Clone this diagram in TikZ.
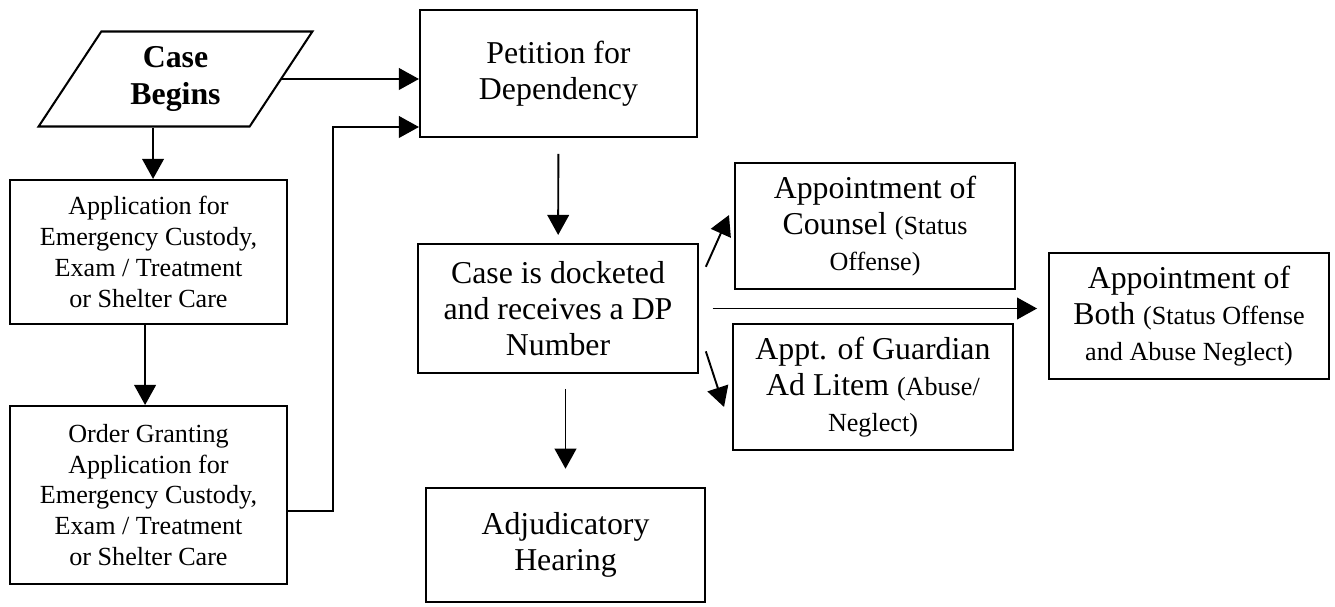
\documentclass[tikz,border=0pt]{standalone}
\usepackage{fontspec}
\setmainfont{Liberation Serif}
\usetikzlibrary{shapes.geometric,arrows.meta}
\newcommand{\smalltxt}[1]{{\fontsize{11.5}{13.5}\selectfont #1}}
\tikzstyle{procbox}=[draw, line width=0.9pt, align=center, inner sep=0pt, font=\fontsize{14}{15.8}\selectfont]
\tikzstyle{smallbox}=[procbox, font=\fontsize{11.5}{13.6}\selectfont]
\tikzstyle{startbox}=[draw, line width=0.9pt, trapezium, trapezium left angle=60, trapezium right angle=120, trapezium stretches=true, inner sep=0pt, align=center, font=\bfseries\fontsize{14}{16.7}\selectfont]
\tikzstyle{flow}=[draw, line width=0.85pt, -{Triangle[length=8.8pt,width=9.5pt]}]

\begin{document}
\begin{tikzpicture}[x=0.44pt, y=-0.44pt]
  \useasboundingbox (0,0) rectangle (1335,607);

  % left column
  \node (begins) [startbox, minimum width=121pt, minimum height=41.8pt] at (175.5,79) {Case\\Begins};
  \node (app) [smallbox, minimum width=121.9pt, minimum height=63.4pt] at (148.5,252)
        {Application for\\Emergency Custody,\\Exam / Treatment\\or Shelter Care};
  \node (order) [smallbox, minimum width=121.9pt, minimum height=78.3pt] at (148.5,495)
        {Order Granting\\Application for\\Emergency Custody,\\Exam / Treatment\\or Shelter Care};

  % middle column
  \node (petition) [procbox, minimum width=121.9pt, minimum height=55.9pt] at (558.5,73.5) {Petition for\\Dependency};
  \node (docket) [procbox, minimum width=123.2pt, minimum height=56.8pt] at (558,308.5)
        {Case is docketed\\and receives a DP\\Number};
  \node (adjud) [procbox, minimum width=122.8pt, minimum height=50.2pt] at (565.5,545) {Adjudicatory\\Hearing};

  % appointments
  \node (counsel) [procbox, minimum width=123.2pt, minimum height=55.4pt] at (875,226)
        {Appointment of\\Counsel \smalltxt{(Status}\\\smalltxt{Offense)}};
  \node (guardian) [procbox, minimum width=123.2pt, minimum height=55.4pt] at (873,387)
        {Appt. of Guardian\\Ad Litem \smalltxt{(Abuse/}\\\smalltxt{Neglect)}};
  \node (both) [procbox, minimum width=123.2pt, minimum height=55.4pt] at (1189,316)
        {Appointment of\\Both \smalltxt{(Status Offense}\\\smalltxt{and Abuse Neglect)}};

  % connections
  \coordinate (turn) at (333,127);
  \draw [flow] ([xshift=2pt]app.north |- begins.south) -- ([xshift=2pt]app.north);
  \draw [flow] ([xshift=-1.5pt]app.south) -- ([xshift=-1.5pt]order.north);
  \draw [flow] (begins.right side) -- (begins.right side -| petition.west);
  \draw [flow] ([yshift=-7pt]order.east) -| (turn) -- (turn -| petition.west);
  \draw [flow, shorten <=7pt, shorten >=3.5pt] (petition) -- (docket);
  \draw [flow, shorten <=6.5pt, shorten >=8pt] (docket.south -| adjud.north) -- (adjud.north);
  \draw [flow] ([shift={(3pt,-10.5pt)}]docket.north east) -- ([shift={(-2.2pt,4.8pt)}]counsel.west);
  \draw [flow] ([shift={(3pt,10pt)}]docket.south east) -- ([shift={(-3.5pt,-8.8pt)}]guardian.west);
  \draw [flow, shorten <=6pt, shorten >=4.8pt] (docket.east) -- (docket.east -| both.west);
\end{tikzpicture}
\end{document}
